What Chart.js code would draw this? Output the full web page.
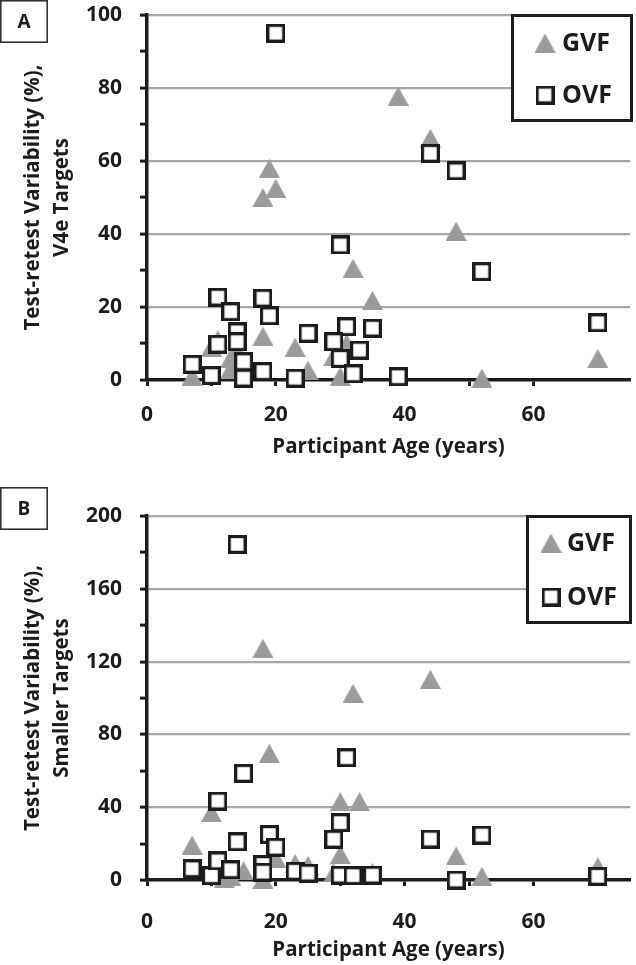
<!DOCTYPE html>
<html>
<head>
<meta charset="utf-8">
<title>Test-retest variability vs age</title>
<script src="https://cdn.jsdelivr.net/npm/chart.js@4.4.1/dist/chart.umd.min.js"></script>
<style>
  body { margin: 0; background: #fff; }
  .panel { position: relative; width: 636px; }
  canvas { display: block; }
</style>
</head>
<body>
<div class="panel"><canvas id="chartA" width="636" height="482"></canvas></div>
<div class="panel"><canvas id="chartB" width="636" height="483"></canvas></div>

<script>
// ---- data ----
const ageTickLabels = [0, 20, 40, 60];

// panel A - V4e targets
const gvfAgeA = [7, 10, 11, 13, 13, 14, 15, 18, 18, 19, 20, 23, 25, 29, 30, 31, 32, 35, 39, 44, 48, 52, 70];
const gvfValA = [1, 9, 11, 6, 3, 8, 2, 12, 50, 58, 52.5, 9, 2.7, 6.5, 1, 10, 30.6, 21.8, 77.8, 66.2, 40.8, 0.5, 5.9];
const ovfAgeA = [20, 11, 13, 18, 19, 14, 14, 11, 25, 7, 10, 15, 15, 18, 23, 31, 35, 29, 33, 30, 32, 39, 44, 48, 30, 52, 70];
const ovfValA = [95, 22.7, 18.7, 22.4, 17.6, 13.2, 10.5, 9.8, 12.8, 4.3, 1.2, 5, 0.5, 2.3, 0.5, 14.6, 14.2, 10.5, 8.2, 5.9, 1.7, 0.9, 62.1, 57.3, 37, 29.7, 15.7];

// panel B - smaller targets
const gvfAgeB = [7, 10, 11, 12, 13, 15, 18, 18, 19, 20, 23, 25, 29, 30, 30, 32, 33, 35, 44, 48, 52, 70];
const gvfValB = [19.2, 37, 4, 1, 2, 5, 127.3, 0.5, 69.6, 12, 9, 8, 4, 43, 14, 102.6, 43, 4, 110.3, 13.2, 2, 7.3];
const ovfAgeB = [14, 15, 11, 14, 19, 20, 7, 10, 11, 13, 18, 18, 23, 25, 30, 29, 44, 52, 30, 32, 35, 48, 31, 70];
const ovfValB = [184.4, 58.6, 43.4, 21, 25, 18, 6.2, 2.4, 10.5, 5.6, 8.5, 4.3, 4.8, 3.8, 31.5, 22.4, 22.5, 24.7, 2.7, 2.4, 2.7, 0, 67.2, 2];

const pts = (xs, ys) => xs.map((x, i) => ({ x: x, y: ys[i] }));

// ---- marker images (excel style) ----
const GREY = '#9b9b9b';
const INK = '#1c1c1c';

function triMarker() {
  const c = document.createElement('canvas');
  c.width = 21; c.height = 19;
  const g = c.getContext('2d');
  g.fillStyle = GREY;
  g.beginPath();
  g.moveTo(10.5, 0); g.lineTo(21, 19); g.lineTo(0, 19);
  g.closePath(); g.fill();
  return c;
}
function sqMarker() {
  const c = document.createElement('canvas');
  c.width = 19; c.height = 19;
  const g = c.getContext('2d');
  g.fillStyle = '#fff';
  g.fillRect(0, 0, 19, 19);
  g.strokeStyle = INK;
  g.lineWidth = 3.2;
  g.strokeRect(1.6, 1.6, 15.8, 15.8);
  return c;
}
const triImg = triMarker();
const sqImg = sqMarker();

const FONT = '"Open Sans", "Noto Sans", sans-serif';

// panel letter + boxed legend
const panelDecor = {
  id: 'panelDecor',
  afterDraw(chart, args, o) {
    const ctx = chart.ctx;
    ctx.save();
    // letter box
    const lb = o.letterBox;
    ctx.fillStyle = '#fff';
    ctx.fillRect(lb[0], lb[1], lb[2], lb[3]);
    ctx.strokeStyle = '#333';
    ctx.lineWidth = 1.6;
    ctx.strokeRect(lb[0] + 0.8, lb[1] + 0.8, lb[2] - 1.6, lb[3] - 1.6);
    ctx.fillStyle = INK;
    ctx.font = 'bold 19px ' + FONT;
    ctx.textAlign = 'center';
    ctx.textBaseline = 'middle';
    ctx.fillText(o.letter, lb[0] + lb[2] / 2, lb[1] + lb[3] / 2 + 1);

    // legend box
    const b = o.legendBox;
    ctx.fillStyle = '#fff';
    ctx.fillRect(b[0], b[1], b[2], b[3]);
    ctx.strokeStyle = INK;
    ctx.lineWidth = 3;
    ctx.strokeRect(b[0] + 1.5, b[1] + 1.5, b[2] - 3, b[3] - 3);
    ctx.drawImage(triImg, o.symX - triImg.width / 2, o.rowY[0] - triImg.height / 2);
    ctx.drawImage(sqImg, o.symX - sqImg.width / 2, o.rowY[1] - sqImg.height / 2);
    ctx.font = 'bold 25px ' + FONT;
    ctx.textAlign = 'left';
    ctx.fillStyle = INK;
    ctx.fillText('GVF', o.textX, o.rowY[0] + 1);
    ctx.fillText('OVF', o.textX, o.rowY[1] + 1);
    ctx.restore();
  }
};

function makePanel(id, cfg) {
  const ctx = document.getElementById(id).getContext('2d');
  return new Chart(ctx, {
    type: 'scatter',
    data: {
      datasets: [
        { label: 'GVF', data: cfg.gvf, pointStyle: triImg, order: 2, clip: false },
        { label: 'OVF', data: cfg.ovf, pointStyle: sqImg, order: 1, clip: false }
      ]
    },
    options: {
      responsive: false,
      animation: false,
      events: [],
      layout: { padding: { top: cfg.top, right: 6, left: 0, bottom: 0 } },
      plugins: {
        legend: { display: false },
        tooltip: { enabled: false },
        panelDecor: cfg.decor
      },
      scales: {
        x: {
          type: 'linear',
          min: 0,
          max: 75,
          afterBuildTicks: s => { s.ticks = s.ticks.filter(t => t.value % 10 === 0); },
          afterFit: s => { s.height = cfg.xHeight; s.paddingLeft = 0; s.paddingRight = 0; },
          ticks: {
            stepSize: 10,
            autoSkip: false,
            maxRotation: 0,
            padding: cfg.xTickPad,
            color: INK,
            font: { family: FONT, size: 21, weight: 'bold' },
            callback: v => ageTickLabels.includes(v) ? String(v) : ''
          },
          grid: { drawOnChartArea: false, drawTicks: true, tickLength: 6, tickWidth: 3, tickColor: INK },
          border: { color: INK, width: 3.5 },
          title: {
            display: true,
            text: 'Participant Age (years)',
            color: INK,
            font: { family: FONT, size: 20.5, weight: 'bold' },
            padding: { top: 0, bottom: cfg.xTitlePad }
          }
        },
        y: {
          min: 0,
          max: cfg.yMax,
          afterFit: s => { s.width = 147; s.paddingTop = 0; s.paddingBottom = 0; },
          ticks: {
            stepSize: cfg.yMinor,
            padding: 18,
            color: INK,
            font: { family: FONT, size: 21, weight: 'bold' },
            callback: v => (v % cfg.yMajor === 0) ? String(v) : ''
          },
          grid: {
            color: c => (c.tick && c.tick.value !== 0 && c.tick.value % cfg.yMajor === 0) ? '#a6a6a6' : 'rgba(0,0,0,0)',
            lineWidth: 2.2,
            drawTicks: true,
            tickLength: 7,
            tickWidth: 3,
            tickColor: INK
          },
          border: { color: INK, width: 3.5 },
          title: {
            display: true,
            text: ['Test-retest Variability (%),', cfg.yTitle2],
            color: INK,
            font: { family: FONT, size: 20.5, weight: 'bold', lineHeight: 1.45 },
            padding: { top: 18, bottom: 0 }
          }
        }
      }
    },
    plugins: [panelDecor]
  });
}

makePanel('chartA', {
  gvf: pts(gvfAgeA, gvfValA),
  ovf: pts(ovfAgeA, ovfValA),
  top: 15,
  xHeight: 102,
  xTickPad: 16,
  xTitlePad: 23,
  yMax: 100, yMinor: 10, yMajor: 20,
  yTitle2: 'V4e Targets',
  decor: {
    letter: 'A', letterBox: [0, 0, 48, 43],
    legendBox: [511, 14, 122, 108], symX: 545, textX: 562, rowY: [43, 95]
  }
});

makePanel('chartB', {
  gvf: pts(gvfAgeB, gvfValB),
  ovf: pts(ovfAgeB, ovfValB),
  top: 34,
  xHeight: 85,
  xTickPad: 23,
  xTitlePad: 3,
  yMax: 200, yMinor: 20, yMajor: 40,
  yTitle2: 'Smaller Targets',
  decor: {
    letter: 'B', letterBox: [0, 5, 48, 43],
    legendBox: [526, 33, 106, 109], symX: 551, textX: 567, rowY: [61, 115]
  }
});
</script>
</body>
</html>
